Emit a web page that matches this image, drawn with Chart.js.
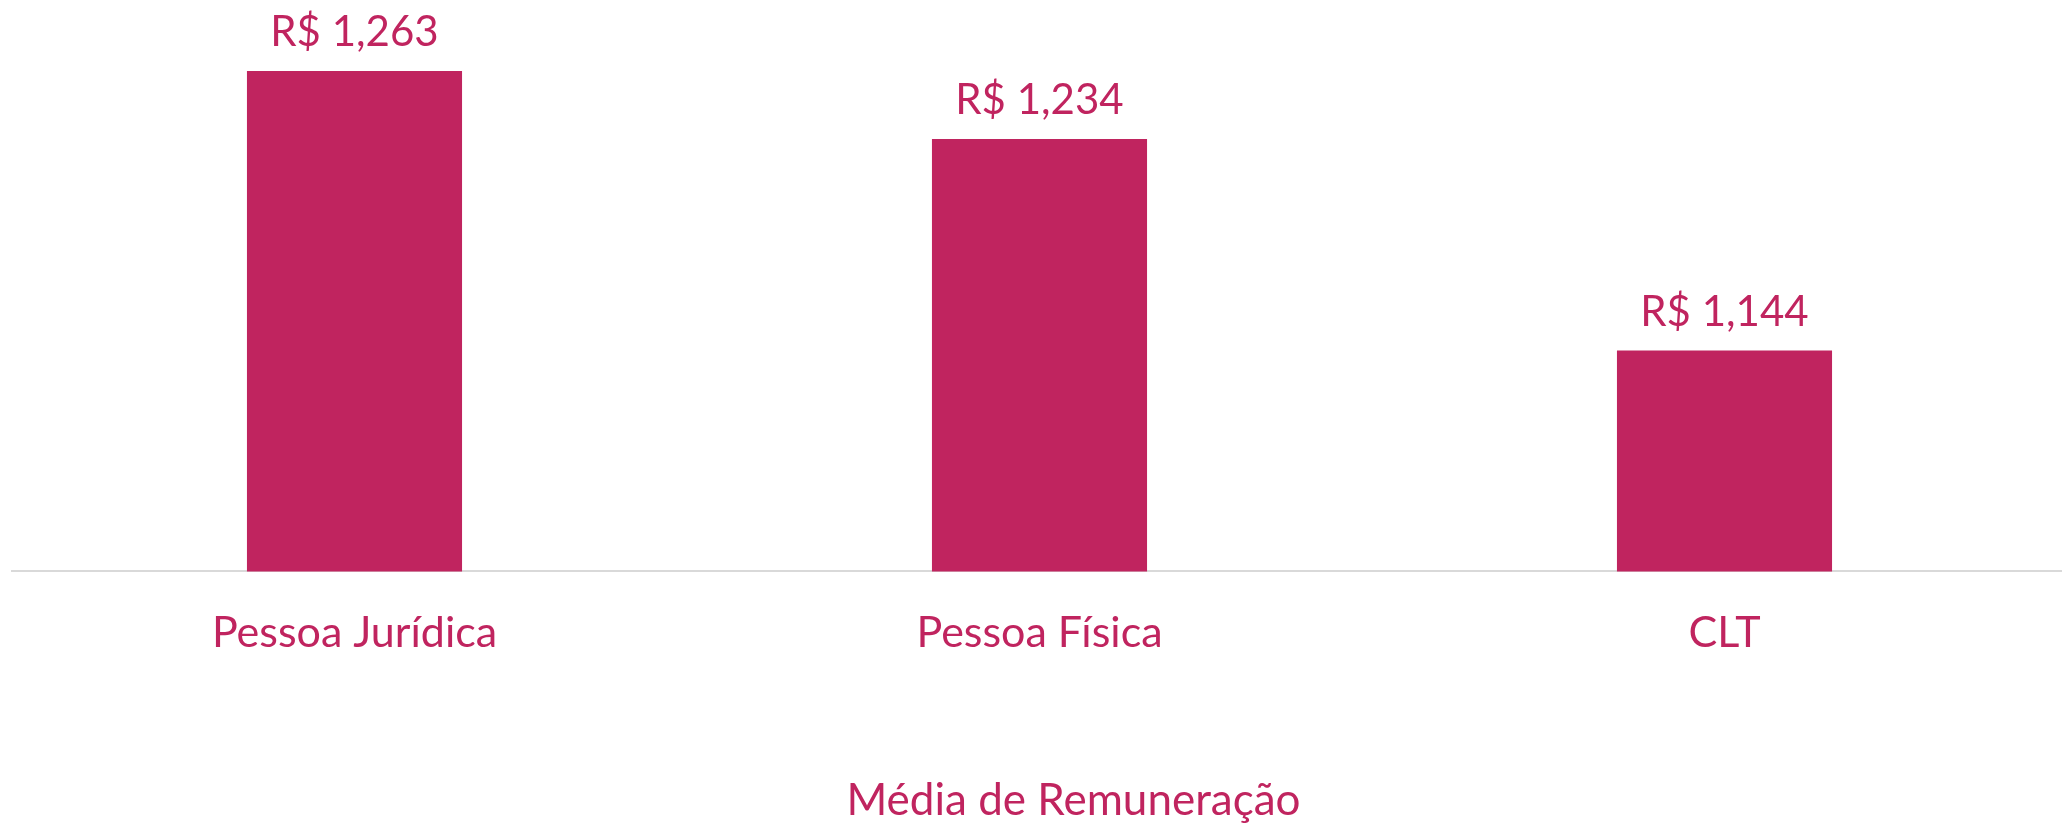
<!DOCTYPE html>
<html>
<head>
<meta charset="utf-8">
<script src="https://cdn.jsdelivr.net/npm/chart.js@4/dist/chart.umd.min.js"></script>
<style>
  html, body { margin: 0; padding: 0; background: #ffffff; overflow: hidden; }
  #wrap { position: relative; width: 2067px; height: 823px; }
</style>
</head>
<body>
<div id="wrap"><canvas id="c"></canvas></div>
<script>
const categories = ["Pessoa Jurídica", "Pessoa Física", "CLT"];
const values = [1263, 1234, 1144];
const valueLabels = ["R$ 1,263", "R$ 1,234", "R$ 1,144"];
const axisTitle = "Média de Remuneração";

const BAR = "#C0245F";
const FONT = "Lato";

const dataLabels = {
  id: "dataLabels",
  afterDatasetsDraw(chart) {
    const ctx = chart.ctx;
    const meta = chart.getDatasetMeta(0);
    ctx.save();
    ctx.font = "42px " + FONT;
    ctx.fillStyle = BAR;
    ctx.textAlign = "center";
    ctx.textBaseline = "alphabetic";
    meta.data.forEach((bar, i) => {
      ctx.fillText(valueLabels[i], bar.x, bar.y - 25);
    });
    ctx.restore();
  }
};

const bottomTitle = {
  id: "bottomTitle",
  afterDraw(chart) {
    const ctx = chart.ctx;
    const a = chart.chartArea;
    ctx.save();
    ctx.font = "44px " + FONT;
    ctx.fillStyle = BAR;
    ctx.textAlign = "center";
    ctx.textBaseline = "alphabetic";
    ctx.fillText(axisTitle, (a.left + a.right) / 2 + 34, chart.height - 8);
    ctx.restore();
  }
};

new Chart(document.getElementById("c"), {
  type: "bar",
  data: {
    labels: categories,
    datasets: [{
      data: values,
      backgroundColor: BAR,
      borderWidth: 0,
      barPercentage: 0.314,
      categoryPercentage: 1.0
    }]
  },
  options: {
    responsive: true,
    maintainAspectRatio: false,
    animation: false,
    layout: { padding: { top: 31, left: 12, right: 0, bottom: 128 } },
    plugins: { legend: { display: false }, tooltip: { enabled: false } },
    scales: {
      y: { display: false, min: 1050, max: 1280 },
      x: {
        grid: { display: false, drawTicks: false },
        border: { display: true, color: "#d9d9d9", width: 2 },
        ticks: { color: BAR, font: { family: FONT, size: 43, lineHeight: 1.2 }, padding: 36 },
        title: { display: false }
      }
    }
  },
  plugins: [dataLabels, bottomTitle]
});
</script>
</body>
</html>
